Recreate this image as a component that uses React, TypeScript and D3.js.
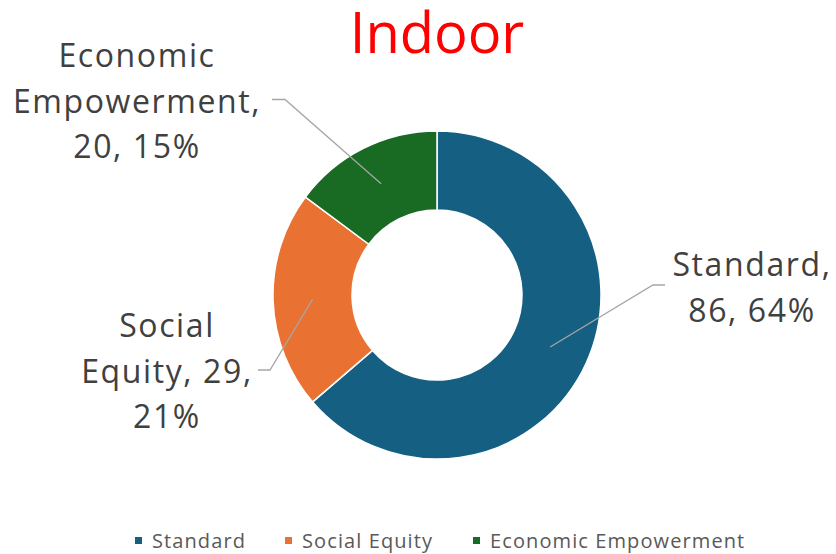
import React from "react";
import * as d3 from "d3";

const categories = ["Standard", "Social Equity", "Economic Empowerment"];
const values = [86, 29, 20];
const percents = ["64%", "21%", "15%"];
const colors = ["#156082", "#E97132", "#196B24"];
const labelLines = [
  ["Standard,", "86, 64%"],
  ["Social", "Equity, 29,", "21%"],
  ["Economic", "Empowerment,", "20, 15%"],
];
const title = "Indoor";

const W = 836, H = 554;
const cx = 437, cy = 295, rOuter = 164, rInner = 85;
const FONT = "'Open Sans', sans-serif";

// label anchor (center x, first baseline y) and leader elbow points
const labelPos = [
  { x: 752, y: 276, elbowX: 653, endX: 665, elbowY: 285 },
  { x: 167, y: 337, elbowX: 270, endX: 258, elbowY: 370 },
  { x: 137, y: 67, elbowX: 285, endX: 272, elbowY: 99.5 },
];

export default function App() {
  const pie = d3.pie<number>().sort(null).value((d) => d)(values);
  const arc = d3.arc<d3.PieArcDatum<number>>().innerRadius(rInner).outerRadius(rOuter);
  const mid = d3.arc<d3.PieArcDatum<number>>().innerRadius((rInner + rOuter) / 2).outerRadius((rInner + rOuter) / 2);
  const legendX = [135, 285, 473];
  return (
    <svg width={W} height={H} style={{ position: "absolute", left: 0, top: 0 }}>
      <rect width={W} height={H} fill="#fff" />
      <text x={437} y={53} textAnchor="middle" fill="#FF0000" fontFamily={FONT} fontSize={56}>{title}</text>
      <g transform={`translate(${cx},${cy})`}>
        {pie.map((p, i) => (
          <path key={i} d={arc(p) || ""} fill={colors[i]} stroke="#fff" strokeWidth={1.5} />
        ))}
      </g>
      {pie.map((p, i) => {
        const [mx, my] = mid.centroid(p);
        const L = labelPos[i];
        return (
          <polyline key={i} points={`${cx + mx},${cy + my} ${L.elbowX},${L.elbowY} ${L.endX},${L.elbowY}`}
            fill="none" stroke="#A6A6A6" strokeWidth={1.3} />
        );
      })}
      {labelLines.map((lines, i) => (
        <text key={i} textAnchor="middle" fill="#404040" fontFamily={FONT} fontSize={32} letterSpacing={1.6}>
          {lines.map((t, j) => (
            <tspan key={j} x={labelPos[i].x} y={labelPos[i].y + j * 45.5}>{t}</tspan>
          ))}
        </text>
      ))}
      {categories.map((c, i) => (
        <g key={c}>
          <rect x={legendX[i]} y={537} width={7} height={7} fill={colors[i]} />
          <text x={legendX[i] + 17} y={548} fill="#595959" fontFamily={FONT} fontSize={20} letterSpacing={1.1}>{c}</text>
        </g>
      ))}
    </svg>
  );
}
